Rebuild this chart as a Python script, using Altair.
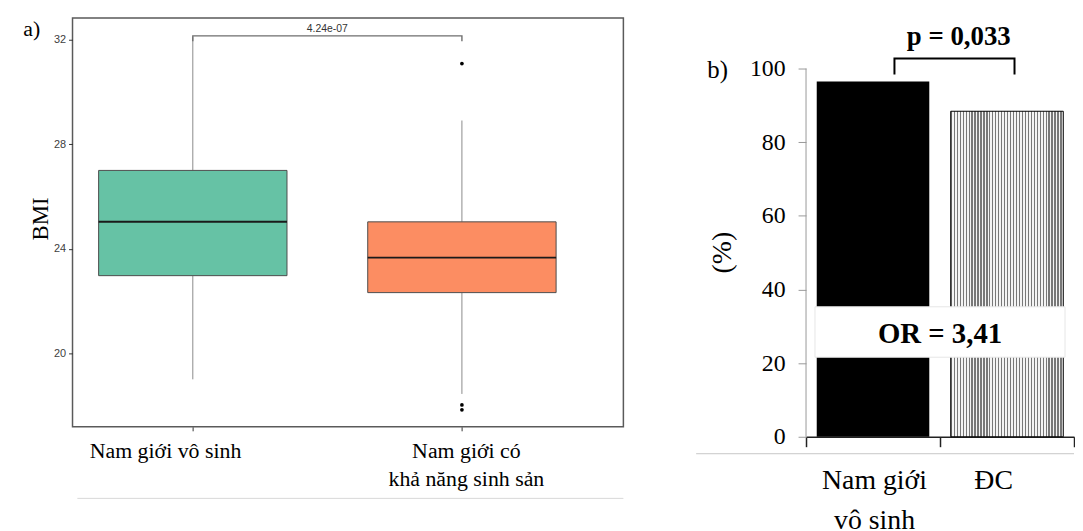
import altair as alt
import pandas as pd

# ---------------- Panel a: BMI boxplots ----------------
groups = ["Nam giới vô sinh", "Nam giới có khả năng sinh sản"]
group_pos = [1, 2]
box_q1 = [22.97, 22.32]
box_median = [25.03, 23.66]
box_q3 = [27.0, 25.03]
whisk_lo = [19.0, 18.44]
whisk_hi = [32.1, 28.91]
box_colors = ["#66C2A5", "#FC8D62"]
outlier_pos = [2, 2, 2]
outlier_bmi = [31.09, 18.02, 17.83]
p_text_a = "4.24e-07"
bmi_ticks = [20, 24, 28, 32]

# ---------------- Panel b: percentage bars ----------------
cats_b = ["Nam giới vô sinh", "ĐC"]
pct_b = [96.5, 88.4]
pct_ticks = [0, 20, 40, 60, 80, 100]
p_text_b = "p = 0,033"
or_text = "OR = 3,41"

SERIF = "Liberation Serif"
SANS = "Liberation Sans"

box_df = pd.DataFrame({
    "group": groups, "pos": group_pos, "q1": box_q1, "median": box_median,
    "q3": box_q3, "lo": whisk_lo, "hi": whisk_hi,
})
out_df = pd.DataFrame({"pos": outlier_pos, "bmi": outlier_bmi})

label_expr_a = (
    f"datum.value == 1 ? '{groups[0]}' : ['Nam giới có', 'khả năng sinh sản']"
)

xscale_a = alt.Scale(domain=[0.553, 2.6], nice=False, zero=False)
yscale_a = alt.Scale(domain=[17.18, 32.84], nice=False, zero=False)

xaxis_a = alt.Axis(
    values=group_pos, labelExpr=label_expr_a, grid=False, domain=False,
    tickColor="#333333", tickSize=4, labelFont=SERIF, labelFontSize=22,
    labelColor="black", labelPadding=10, labelLineHeight=28,
    labelOffset={"condition": {"test": "datum.value == 1", "value": -28}, "value": 4},
    labelOverlap=False, labelFlush=False, labelBound=False,
)
yaxis_a = alt.Axis(
    values=bmi_ticks, grid=False, domain=False, tickColor="#333333", tickSize=4,
    labelFont=SANS, labelFontSize=11, labelColor="#404040", labelPadding=3,
    title="BMI", titleFont=SERIF, titleFontSize=23, titleFontWeight="normal",
    titleColor="black", titleX=-32, titleY=202, titleBaseline="middle",
    titleAngle=-90,
)


def XA(field):
    return alt.X(field, type="quantitative", scale=xscale_a, axis=xaxis_a, title=None)


def YA(field):
    return alt.Y(field, type="quantitative", scale=yscale_a, axis=yaxis_a, title="BMI")


base_a = alt.Chart(box_df)

whisk_low = base_a.mark_rule(color="#8a8a8a", strokeWidth=1).encode(
    x=XA("pos"), y=YA("lo"), y2="q1")
whisk_high = base_a.mark_rule(color="#8a8a8a", strokeWidth=1).encode(
    x=XA("pos"), y=YA("q3"), y2="hi")

boxes = base_a.transform_calculate(
    xl="datum.pos - 0.35", xr="datum.pos + 0.35"
).mark_rect(stroke="#4d4d4d", strokeWidth=1).encode(
    x=XA("xl"), x2="xr", y=YA("q1"), y2="q3",
    color=alt.Color("group:N", scale=alt.Scale(domain=groups, range=box_colors), legend=None),
)

medians = base_a.transform_calculate(
    xl="datum.pos - 0.35", xr="datum.pos + 0.35"
).mark_rule(color="#1a1a1a", strokeWidth=2).encode(
    x=XA("xl"), x2="xr", y=YA("median"))

outliers = alt.Chart(out_df).mark_circle(color="black", size=14, opacity=1).encode(
    x=XA("pos"), y=YA("bmi"))

bracket_y = 32.15
bracket_df = pd.DataFrame({
    "bx": [group_pos[0], group_pos[0], group_pos[1], group_pos[1]],
    "by": [bracket_y - 0.2, bracket_y, bracket_y, bracket_y - 0.2],
    "o": [0, 1, 2, 3],
})
bracket_a = alt.Chart(bracket_df).mark_line(color="#6e6e6e", strokeWidth=1.4).encode(
    x=XA("bx"), y=YA("by"), order="o:Q")

ptext_a = alt.Chart(pd.DataFrame({"t": [p_text_a], "x": [1.5], "y": [bracket_y]})).mark_text(
    font=SANS, fontSize=10.5, color="#333333", baseline="middle", dy=-7
).encode(x=XA("x"), y=YA("y"), text="t:N")

label_a = alt.Chart(pd.DataFrame({"t": ["a)"]})).mark_text(
    font=SERIF, fontSize=22, color="black", align="center", baseline="middle"
).encode(x=alt.value(-41), y=alt.value(11), text="t:N")

# faint scan edge line under panel a
edge_a = alt.Chart(pd.DataFrame({"x0": [0.571], "x1": [2.6], "y": [14.44]})).mark_rule(
    color="#d9d9d9", strokeWidth=1).encode(x=XA("x0"), x2="x1", y=YA("y"))

panel_a = alt.layer(
    whisk_low, whisk_high, boxes, medians, outliers, bracket_a, ptext_a, label_a, edge_a
).properties(width=555, height=412, view=alt.ViewBackground(stroke="#5a5a5a", strokeWidth=1.5))

# ---------------- Panel b construction ----------------
bar_df = pd.DataFrame({"cat": cats_b, "pct": pct_b, "i": [0, 1]})

xscale_b = alt.Scale(domain=[0, 2], nice=False, zero=False)
yscale_b = alt.Scale(domain=[0, 113.75], nice=False, zero=True)

label_expr_b = "datum.value == 0.5 ? ['Nam giới', 'vô sinh'] : datum.value == 1.5 ? 'ĐC' : ''"

xaxis_b = alt.Axis(
    values=[0, 0.5, 1, 1.5, 2], labelExpr=label_expr_b, grid=False,
    domain=True, domainColor="#222222", domainWidth=1.5,
    tickColor="#222222", tickWidth=1.5, tickSize=10,
    tickOpacity={"condition": {"test": "datum.value % 1 != 0", "value": 0}, "value": 1},
    labelFont=SERIF, labelFontSize=28, labelColor="black", labelPadding=20,
    labelOffset={"condition": {"test": "datum.value == 1.5", "value": -14}, "value": 1},
    labelLineHeight=40, labelOverlap=False, labelFlush=False, labelBound=False,
)
yaxis_b = alt.Axis(
    values=pct_ticks, grid=False, domain=False, tickColor="#999999", tickSize=8,
    labelFont=SERIF, labelFontSize=24, labelColor="black", labelPadding=13,
    title="(%)", titleFont=SERIF, titleFontSize=28, titleFontWeight="normal",
    titleColor="black", titleX=-84, titleY=236, titleBaseline="middle", titleAngle=-90,
)


def XB(field):
    return alt.X(field, type="quantitative", scale=xscale_b, axis=xaxis_b, title=None)


def YB(field):
    return alt.Y(field, type="quantitative", scale=yscale_b, axis=yaxis_b, title="(%)")


n_stripes = 38
stops = []
for k in range(n_stripes):
    a0 = k / n_stripes
    a1 = (k + 0.42) / n_stripes
    a2 = (k + 1) / n_stripes
    stops += [
        alt.GradientStop(offset=a0, color="#787878"),
        alt.GradientStop(offset=a1, color="#787878"),
        alt.GradientStop(offset=a1, color="#f4f4f4"),
        alt.GradientStop(offset=a2, color="#f4f4f4"),
    ]
dots_fill = alt.LinearGradient(gradient="linear", stops=stops, x1=0, x2=1, y1=0, y2=0)

base_b = alt.Chart(bar_df).transform_calculate(
    x0="datum.i + 0.08", x1="datum.i + 0.92"
)

bar_black = base_b.transform_filter("datum.i == 0").mark_rect(fill="black").encode(
    x=XB("x0"), x2="x1", y=YB("pct"), y2=alt.datum(0))
bar_dots = base_b.transform_filter("datum.i == 1").mark_rect(
    fill=dots_fill, stroke="black", strokeWidth=1
).encode(x=XB("x0"), x2="x1", y=YB("pct"), y2=alt.datum(0))

yline_b = alt.Chart(pd.DataFrame({"x": [0], "y0": [0], "y1": [100]})).mark_rule(
    color="#999999", strokeWidth=1).encode(x=XB("x"), y=YB("y0"), y2="y1")

or_box = alt.Chart(pd.DataFrame({"x0": [0.067], "x1": [1.933], "y0": [21.6], "y1": [35.3]})).mark_rect(
    fill="white", stroke="#e6e6e6", strokeWidth=1).encode(x=XB("x0"), x2="x1", y=YB("y0"), y2="y1")
or_label = alt.Chart(pd.DataFrame({"t": [or_text], "x": [1.0], "y": [27.8]})).mark_text(
    font=SERIF, fontSize=29, fontWeight="bold", color="black", baseline="middle"
).encode(x=XB("x"), y=YB("y"), text="t:N")

bracket_b_df = pd.DataFrame({
    "bx": [0.66, 0.66, 1.556, 1.556],
    "by": [98.4, 102.7, 102.7, 98.4],
    "o": [0, 1, 2, 3],
})
bracket_b = alt.Chart(bracket_b_df).mark_line(color="black", strokeWidth=2).encode(
    x=XB("bx"), y=YB("by"), order="o:Q")
ptext_b = alt.Chart(pd.DataFrame({"t": [p_text_b], "x": [1.14], "y": [108.6]})).mark_text(
    font=SERIF, fontSize=27, fontWeight="bold", color="black", baseline="middle"
).encode(x=XB("x"), y=YB("y"), text="t:N")

label_b = alt.Chart(pd.DataFrame({"t": ["b)"]})).mark_text(
    font=SERIF, fontSize=25, color="black", align="center", baseline="middle"
).encode(x=alt.value(-89), y=alt.value(53), text="t:N")

# faint scan edge line under panel b axis
edge_b = alt.Chart(pd.DataFrame({"x0": [-0.82], "x1": [2.0], "y": [-4.6]})).mark_rule(
    color="#c8c8c8", strokeWidth=1).encode(x=XB("x0"), x2="x1", y=YB("y"))

panel_b = alt.layer(
    bar_black, bar_dots, yline_b, or_box, or_label, bracket_b, ptext_b, label_b, edge_b
).properties(width=270, height=422)

chart = alt.hconcat(panel_a, panel_b, spacing=184, bounds="flush").properties(
    padding={"left": 14, "top": 7, "right": 0, "bottom": 0}
).configure_view(stroke=None)

chart.save("out.html", embed_options={"renderer": "svg", "actions": False})
